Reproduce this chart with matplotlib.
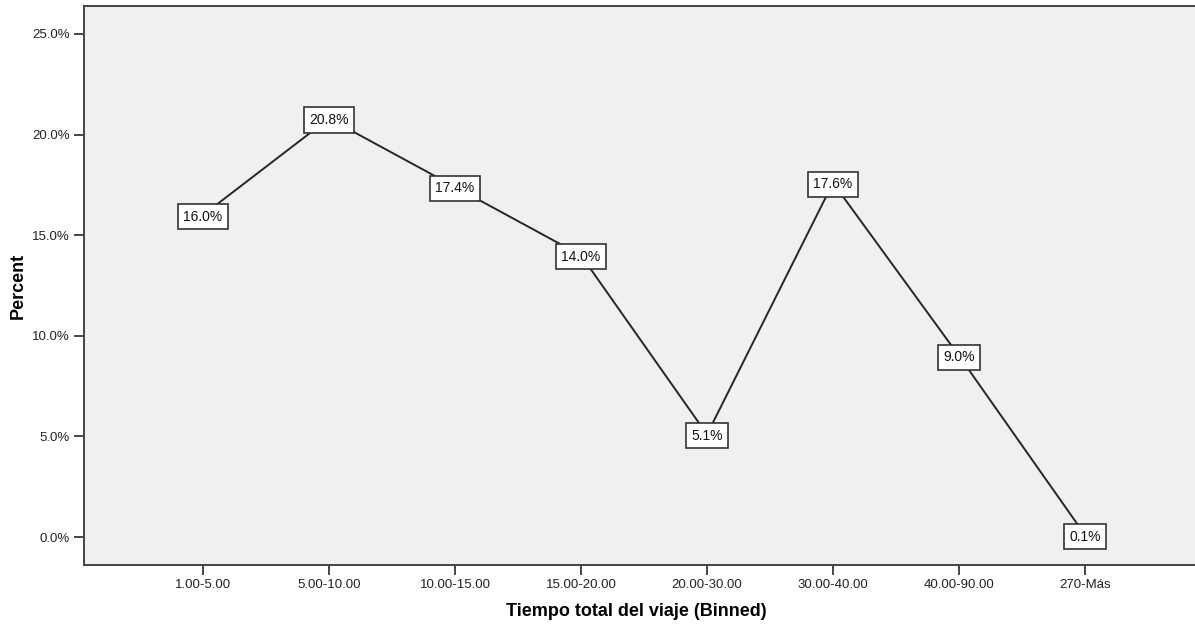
import matplotlib
matplotlib.use("Agg")
import matplotlib.pyplot as plt
from matplotlib.ticker import FuncFormatter

categories = ["1.00-5.00", "5.00-10.00", "10.00-15.00", "15.00-20.00",
              "20.00-30.00", "30.00-40.00", "40.00-90.00", "270-Más"]
percent = [16.0, 20.8, 17.4, 14.0, 5.1, 17.6, 9.0, 0.1]
y_ticks = [0, 5, 10, 15, 20, 25]

plt.rcParams["font.family"] = ["Liberation Sans", "DejaVu Sans"]

W, H = 1195, 629
fig = plt.figure(figsize=(W / 100, H / 100), dpi=100)
# axes run slightly past the right edge of the canvas
ax = fig.add_axes([84 / W, 1 - 565 / H, 1120 / W, 559 / H])
ax.set_facecolor("#f0f0f0")

x = list(range(len(categories)))
ax.plot(x, percent, color="#262626", linewidth=1.4, zorder=2)

for xi, v in zip(x, percent):
    ax.text(xi, v, f"{v:.1f}%", ha="center", va="center_baseline",
            fontsize=10, color="#111111", zorder=3,
            bbox=dict(boxstyle="square,pad=0.4", facecolor="white",
                      edgecolor="#333333", linewidth=1.2))

ax.set_xlim(-0.944, 7.944)
ax.set_ylim(-1.39, 26.39)
ax.set_xticks(x)
ax.set_xticklabels(categories)
ax.set_yticks(y_ticks)
ax.yaxis.set_major_formatter(FuncFormatter(lambda v, p: f"{v:.1f}%"))

for side in ["left", "bottom", "top", "right"]:
    ax.spines[side].set_color("#444444")
    ax.spines[side].set_linewidth(1.4)

ax.tick_params(axis="both", direction="out", length=7, width=1.4,
               color="#444444", labelsize=9.5, labelcolor="#222222", pad=3)

fig.text(636 / W, 1 - 612 / H, "Tiempo total del viaje (Binned)",
         fontsize=13, fontweight="bold", ha="center", va="center")
fig.text(18 / W, 1 - 286 / H, "Percent", fontsize=13, fontweight="bold",
         rotation=90, ha="center", va="center")

fig.savefig("out.png", dpi=100)
